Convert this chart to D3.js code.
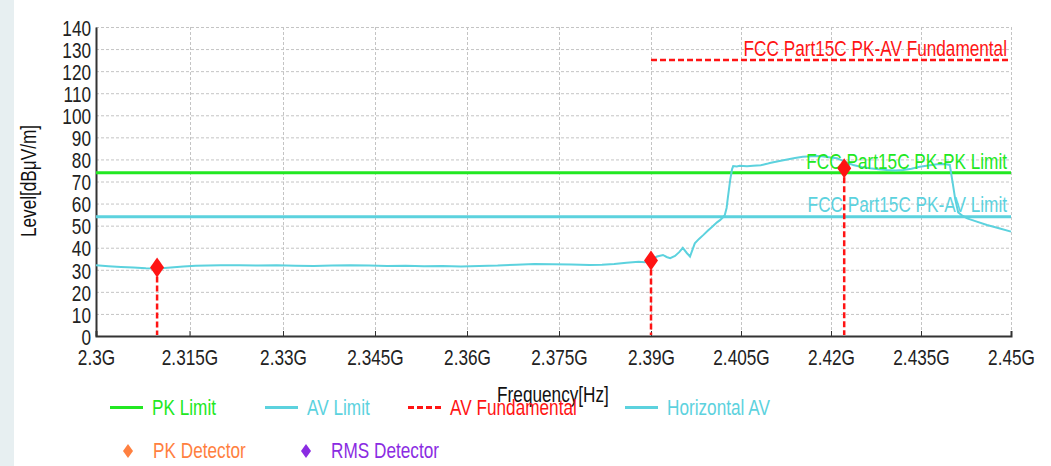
<!DOCTYPE html>
<html><head><meta charset="utf-8">
<script src="https://cdn.jsdelivr.net/npm/d3@7"></script>
<style>
html,body{margin:0;padding:0;background:#fff;}
svg{display:block;}
text{font-family:"Liberation Sans",Arial,sans-serif;}
</style></head>
<body>
<svg id="c" width="1051" height="466"></svg>
<script>
// ---- data ----
const xTicks = [2.3, 2.315, 2.33, 2.345, 2.36, 2.375, 2.39, 2.405, 2.42, 2.435, 2.45];
const xTickLabels = ["2.3G","2.315G","2.33G","2.345G","2.36G","2.375G","2.39G","2.405G","2.42G","2.435G","2.45G"];
const yTicks = [0,10,20,30,40,50,60,70,80,90,100,110,120,130,140];
const pkLimit = 74;
const avLimit = 54;
const avFundamental = {from: 2.39, to: 2.45, level: 125};
const traceFreq = [2.300,2.302,2.304,2.306,2.308,2.310,2.312,2.314,2.316,2.318,2.320,2.323,2.326,2.329,2.332,2.335,2.338,2.341,2.344,2.347,2.350,2.353,2.356,2.359,2.362,2.365,2.368,2.371,2.374,2.377,2.380,2.382,2.384,2.386,2.388,2.389,
  2.3900,2.3910,2.3920,2.3926,2.3932,2.3940,2.3947,2.3953,2.3960,2.3965,2.3973,2.3980,2.3987,2.3995,2.4002,2.4010,2.4015,2.4020,2.4023,2.4026,2.4028,2.4032,2.4035,2.4037,2.4043,2.4048,2.4060,2.4070,2.4083,2.4093,2.4098,2.4112,2.4127,2.4140,2.4153,2.4168,2.4182,2.4196,2.4210,2.4223,2.4237,2.4251,2.4265,2.4279,2.4293,2.4307,2.4320,2.4334,2.4348,2.4362,2.4377,2.4390,2.4398,2.4403,2.4407,2.4412,2.4419,2.4427,2.4443,2.4460,2.4480,2.4500];
const traceLevel = [32.0,31.6,31.3,31.0,30.7,30.6,31.0,31.5,31.8,31.9,32.0,32.1,31.9,32.0,31.8,31.7,31.9,32.0,31.9,31.7,31.8,31.6,31.7,31.5,31.7,31.9,32.3,32.6,32.5,32.4,32.2,32.3,32.6,33.2,33.6,33.4,
  34.5,36.0,36.7,35.8,35.3,36.3,38.0,39.9,37.5,36.0,42.0,44.0,45.7,47.8,49.5,51.5,52.5,53.8,54.8,58.0,62.5,70.7,75.5,77.0,76.8,77.1,76.9,77.1,77.4,78.0,78.4,79.2,80.0,80.6,81.2,81.4,81.5,81.0,80.5,79.0,77.5,76.6,76.0,75.5,75.2,75.0,75.2,75.8,76.7,77.3,77.8,77.9,77.5,69.0,62.0,56.0,54.5,53.3,51.8,50.3,48.8,47.3];
const detFreq = [2.3098, 2.3900, 2.4222];
const detLevel = [31.0, 34.2, 76.0];
const legendRow1 = ["PK Limit","AV Limit","AV Fundamental","Horizontal AV"];
const legendRow2 = ["PK Detector","RMS Detector"];

// ---- styles ----
const GREEN = "#22e822", CYAN = "#5cd2de", RED = "#ff1414", ORANGE = "#ff8040", PURPLE = "#8a2be2";
const FS = 20, SX = 0.86, SY = 1.14;
const svg = d3.select("#c");
const L = 96, R = 1011, T = 27, B = 336;
// the reference axis is slightly compressed toward the right: piecewise linear scale
const x = d3.scaleLinear().domain([2.3, 2.33, 2.39, 2.45]).range([L, 283, 651, R]);
const y = d3.scaleLinear().domain([0, 140]).range([B, T]);

function label(px, py, str, color, anchor, rot) {
  return svg.append("text")
    .attr("transform", `translate(${px},${py})${rot ? " rotate(" + rot + ")" : ""} scale(${SX},${SY})`)
    .attr("text-anchor", anchor || "start").attr("font-size", FS).attr("fill", color).text(str);
}

// left decorative strip
svg.append("rect").attr("x",0).attr("y",0).attr("width",14).attr("height",466).attr("fill","#e7eff1");

// grid
const g = svg.append("g");
g.selectAll(".hg").data(yTicks.filter(d=>d>0)).join("line")
  .attr("x1",L).attr("x2",R).attr("y1",d=>y(d)+0.5).attr("y2",d=>y(d)+0.5)
  .attr("stroke","#c4c4c4").attr("stroke-dasharray","3,2");
g.selectAll(".vg").data(xTicks.slice(1)).join("line")
  .attr("x1",d=>Math.round(x(d))+0.5).attr("x2",d=>Math.round(x(d))+0.5).attr("y1",T).attr("y2",B)
  .attr("stroke","#c4c4c4").attr("stroke-dasharray","3,2");

// axes
const xAxis = d3.axisBottom(x).tickValues(xTicks).tickFormat((d,i)=>xTickLabels[i]).tickSize(-5).tickPadding(12);
const ax = svg.append("g").attr("transform",`translate(0,${B})`).call(xAxis);
ax.select(".domain").attr("stroke","#333").attr("stroke-width",2);
ax.selectAll(".tick line").attr("stroke","#333");
ax.selectAll("text").attr("font-size",FS).attr("fill","#222").attr("y",29/SY).attr("dy",null)
  .attr("transform",`scale(${SX},${SY})`);
const yAxis = d3.axisLeft(y).tickValues(yTicks).tickSize(0).tickPadding(5);
const ay = svg.append("g").attr("transform",`translate(${L},0)`).call(yAxis);
ay.select(".domain").attr("stroke","#333").attr("stroke-width",2);
ay.selectAll("text").attr("font-size",FS).attr("fill","#222").attr("dy","0.36em")
  .attr("x",-5/SX).attr("transform",`scale(${SX},${SY})`);

// limit lines
svg.append("line").attr("x1",L).attr("x2",R).attr("y1",y(pkLimit)).attr("y2",y(pkLimit))
  .attr("stroke",GREEN).attr("stroke-width",3);
svg.append("line").attr("x1",L).attr("x2",R).attr("y1",y(avLimit)).attr("y2",y(avLimit))
  .attr("stroke",CYAN).attr("stroke-width",3);
svg.append("line").attr("x1",x(avFundamental.from)).attr("x2",x(avFundamental.to))
  .attr("y1",y(avFundamental.level)).attr("y2",y(avFundamental.level))
  .attr("stroke",RED).attr("stroke-width",2.5).attr("stroke-dasharray","6,3");

// trace
const line = d3.line().x((d,i)=>x(traceFreq[i])).y((d,i)=>y(traceLevel[i]));
svg.append("path").attr("d",line(traceLevel)).attr("fill","none").attr("stroke",CYAN).attr("stroke-width",2);

// labels on limit lines
label(1007, y(avFundamental.level)-4, "FCC Part15C PK-AV Fundamental", RED, "end");
label(1007, y(pkLimit)-4, "FCC Part15C PK-PK Limit", GREEN, "end");
label(1007, y(avLimit)-5, "FCC Part15C PK-AV Limit", CYAN, "end");

// detector markers
detFreq.forEach((f,i)=>{
  svg.append("line").attr("x1",x(f)).attr("x2",x(f)).attr("y1",y(detLevel[i])).attr("y2",B-1)
    .attr("stroke",RED).attr("stroke-width",2.5).attr("stroke-dasharray","6,3");
  const cx = x(f), cy = y(detLevel[i]);
  svg.append("path").attr("d",`M${cx},${cy-10}L${cx+7},${cy}L${cx},${cy+10}L${cx-7},${cy}Z`).attr("fill",RED);
});

// axis titles
label(553, 402, "Frequency[Hz]", "#111", "middle");
label(36, 181, "Level[dBμV/m]", "#111", "middle", -90);

// legend
const leg1 = [{x:110, c:GREEN, dash:null},{x:265, c:CYAN, dash:null},{x:408, c:RED, dash:"6,3"},{x:625, c:CYAN, dash:null}];
leg1.forEach((d,i)=>{
  svg.append("line").attr("x1",d.x).attr("x2",d.x+33).attr("y1",407.5).attr("y2",407.5)
    .attr("stroke",d.c).attr("stroke-width",3).attr("stroke-dasharray",d.dash);
  label(d.x+42, 415, legendRow1[i], d.c);
});
const leg2 = [{x:128, c:ORANGE},{x:306, c:PURPLE}];
leg2.forEach((d,i)=>{
  svg.append("path").attr("d",`M${d.x},${451-7}L${d.x+5},451L${d.x},${451+7}L${d.x-5},451Z`).attr("fill",d.c);
  label(d.x+25, 458, legendRow2[i], d.c);
});
</script>
</body></html>
